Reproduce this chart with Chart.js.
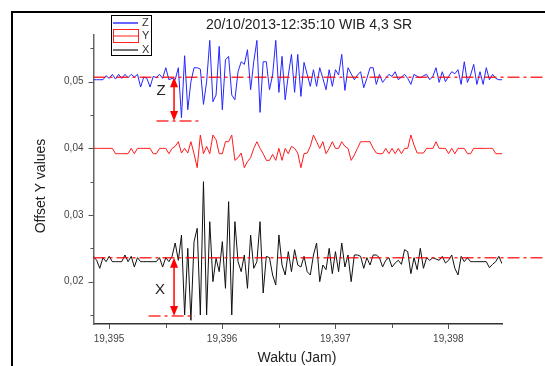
<!DOCTYPE html>
<html>
<head>
<meta charset="utf-8">
<script src="https://cdn.jsdelivr.net/npm/chart.js@4"></script>
<style>
  body { margin: 0; background: #fff; }
  canvas { display: block; }
</style>
</head>
<body>
<canvas id="graph" width="545" height="366"></canvas>
<script>
// seismogram, 10 samples per second, time in hours
const sampleStart = 19.394863;
const sampleStep = 1 / 36000;

const zValues = [
  0.0503, 0.0503, 0.0503, 0.0503, 0.0509, 0.0505, 0.0511, 0.0504, 0.0511, 0.0505,
  0.0511, 0.0506, 0.0511, 0.0507, 0.0511, 0.0492, 0.0507, 0.0505, 0.0492, 0.0508,
  0.0506, 0.0511, 0.0505, 0.0521, 0.0503, 0.0505, 0.0503, 0.0521, 0.0446, 0.0539,
  0.0458, 0.0500, 0.0521, 0.0521, 0.0519, 0.0466, 0.0500, 0.0562, 0.0470, 0.0480,
  0.0553, 0.0458, 0.0533, 0.0538, 0.0480, 0.0473, 0.0515, 0.0530, 0.0526, 0.0548,
  0.0488, 0.0530, 0.0562, 0.0454, 0.0530, 0.0530, 0.0488, 0.0510, 0.0562, 0.0484,
  0.0538, 0.0473, 0.0510, 0.0541, 0.0484, 0.0541, 0.0478, 0.0529, 0.0511, 0.0493,
  0.0518, 0.0493, 0.0521, 0.0505, 0.0488, 0.0518, 0.0493, 0.0518, 0.0510, 0.0541,
  0.0487, 0.0521, 0.0512, 0.0503, 0.0510, 0.0515, 0.0491, 0.0505, 0.0521, 0.0521,
  0.0496, 0.0511, 0.0499, 0.0505, 0.0511, 0.0508, 0.0515, 0.0503, 0.0507, 0.0511,
  0.0505, 0.0496, 0.0511, 0.0508, 0.0506, 0.0509, 0.0511, 0.0503, 0.0508, 0.0521,
  0.0499, 0.0515, 0.0500, 0.0508, 0.0515, 0.0512, 0.0518, 0.0496, 0.0530, 0.0499,
  0.0510, 0.0526, 0.0496, 0.0515, 0.0496, 0.0521, 0.0503, 0.0511, 0.0505, 0.0503,
  0.0503
];

const yValues = [
  0.0400, 0.0400, 0.0400, 0.0400, 0.0400, 0.0400, 0.0400, 0.0392, 0.0392, 0.0392,
  0.0392, 0.0392, 0.0400, 0.0392, 0.0400, 0.0400, 0.0400, 0.0400, 0.0400, 0.0392,
  0.0392, 0.0400, 0.0400, 0.0400, 0.0392, 0.0400, 0.0403, 0.0410, 0.0393, 0.0400,
  0.0393, 0.0410, 0.0392, 0.0371, 0.0420, 0.0392, 0.0403, 0.0392, 0.0420, 0.0413,
  0.0392, 0.0392, 0.0410, 0.0410, 0.0420, 0.0382, 0.0386, 0.0393, 0.0371, 0.0380,
  0.0386, 0.0400, 0.0410, 0.0400, 0.0392, 0.0382, 0.0382, 0.0391, 0.0382, 0.0400,
  0.0382, 0.0400, 0.0392, 0.0403, 0.0400, 0.0393, 0.0371, 0.0392, 0.0393, 0.0403,
  0.0420, 0.0410, 0.0400, 0.0410, 0.0392, 0.0400, 0.0410, 0.0400, 0.0400, 0.0410,
  0.0403, 0.0400, 0.0382, 0.0390, 0.0400, 0.0410, 0.0410, 0.0410, 0.0410, 0.0400,
  0.0393, 0.0392, 0.0392, 0.0400, 0.0392, 0.0400, 0.0392, 0.0400, 0.0392, 0.0400,
  0.0400, 0.0420, 0.0405, 0.0393, 0.0393, 0.0393, 0.0400, 0.0400, 0.0400, 0.0410,
  0.0400, 0.0400, 0.0400, 0.0392, 0.0400, 0.0392, 0.0400, 0.0400, 0.0400, 0.0392,
  0.0392, 0.0400, 0.0400, 0.0400, 0.0400, 0.0400, 0.0400, 0.0400, 0.0392, 0.0392,
  0.0392
];

const xValues = [
  0.0238, 0.0232, 0.0220, 0.0236, 0.0230, 0.0238, 0.0230, 0.0230, 0.0230, 0.0230,
  0.0240, 0.0230, 0.0238, 0.0222, 0.0236, 0.0230, 0.0230, 0.0230, 0.0230, 0.0230,
  0.0230, 0.0236, 0.0222, 0.0236, 0.0230, 0.0238, 0.0258, 0.0232, 0.0270, 0.0150,
  0.0250, 0.0142, 0.0260, 0.0280, 0.0150, 0.0350, 0.0150, 0.0290, 0.0200, 0.0235,
  0.0215, 0.0260, 0.0190, 0.0320, 0.0150, 0.0290, 0.0230, 0.0215, 0.0240, 0.0190,
  0.0270, 0.0220, 0.0230, 0.0290, 0.0183, 0.0238, 0.0236, 0.0210, 0.0195, 0.0270,
  0.0225, 0.0210, 0.0245, 0.0215, 0.0248, 0.0225, 0.0222, 0.0238, 0.0215, 0.0210,
  0.0240, 0.0258, 0.0200, 0.0225, 0.0218, 0.0250, 0.0212, 0.0245, 0.0215, 0.0258,
  0.0222, 0.0240, 0.0200, 0.0240, 0.0240, 0.0238, 0.0220, 0.0236, 0.0225, 0.0240,
  0.0240, 0.0236, 0.0222, 0.0232, 0.0236, 0.0222, 0.0228, 0.0232, 0.0226, 0.0248,
  0.0245, 0.0212, 0.0236, 0.0218, 0.0250, 0.0220, 0.0236, 0.0232, 0.0236, 0.0234,
  0.0232, 0.0238, 0.0228, 0.0232, 0.0240, 0.0220, 0.0210, 0.0238, 0.0230, 0.0236,
  0.0230, 0.0230, 0.0230, 0.0230, 0.0230, 0.0230, 0.0221, 0.0226, 0.0230, 0.0238,
  0.0227
];

const xTickValues = [19.395, 19.3955, 19.396, 19.3965, 19.397, 19.3975, 19.398];
const yTickValues = [0.015, 0.02, 0.025, 0.03, 0.035, 0.04, 0.045, 0.05, 0.055];

// amplitude markers (red arrows)
const markers = [
  { name: "Z", base: 0.05066, low: 0.0441, t: 19.395575, from: 19.39542, to: 19.39579, labelT: 19.39546, labelV: 0.0487 },
  { name: "X", base: 0.0236, low: 0.01485, t: 19.395575, from: 19.39535, to: 19.39576, labelT: 19.39545, labelV: 0.01875 },
];

const times = zValues.map((v, i) => sampleStart + i * sampleStep);
const toPoints = (vals) => vals.map((v, i) => ({ x: times[i], y: v }));

const isMajor = (v, step) => Math.abs(v / step - Math.round(v / step)) < 1e-6;
const comma = (v, d) => v.toFixed(d).replace(".", ",");
const font = "'Liberation Sans', Arial, sans-serif";

function arrowHead(ctx, x, y, dir) {
  ctx.beginPath();
  ctx.moveTo(x, y);
  ctx.lineTo(x - 4, y - dir * 10);
  ctx.lineTo(x + 4, y - dir * 10);
  ctx.closePath();
  ctx.fill();
}

const decor = {
  id: "decor",
  beforeDraw(chart) {
    const ctx = chart.ctx;
    ctx.save();
    ctx.fillStyle = "#fff";
    ctx.fillRect(0, 0, chart.width, chart.height);
    ctx.restore();
  },
  afterDraw(chart) {
    const { ctx, chartArea } = chart;
    const xs = chart.scales.x;
    const ys = chart.scales.y;
    ctx.save();

    // tick marks
    ctx.strokeStyle = "#555";
    ctx.lineWidth = 1;
    xs.ticks.forEach((t) => {
      const px = Math.round(xs.getPixelForValue(t.value)) + 0.5;
      const len = isMajor(t.value, 0.001) ? 5 : 4;
      ctx.beginPath();
      ctx.moveTo(px, chartArea.bottom);
      ctx.lineTo(px, chartArea.bottom + len);
      ctx.stroke();
    });
    ys.ticks.forEach((t) => {
      const py = Math.round(ys.getPixelForValue(t.value)) + 0.5;
      const len = isMajor(t.value, 0.01) ? 5 : 3;
      ctx.beginPath();
      ctx.moveTo(chartArea.left, py);
      ctx.lineTo(chartArea.left - len, py);
      ctx.stroke();
    });

    // red reference lines and arrows
    markers.forEach((m) => {
      const ax = xs.getPixelForValue(m.t);
      const yb = ys.getPixelForValue(m.base);
      const yl = ys.getPixelForValue(m.low);
      ctx.strokeStyle = "rgba(255,0,0,0.8)";
      ctx.lineWidth = 1.5;
      ctx.setLineDash([12, 4, 3, 4]);
      ctx.beginPath();
      ctx.moveTo(chartArea.left, yb);
      ctx.lineTo(chart.width, yb);
      ctx.stroke();
      ctx.beginPath();
      ctx.moveTo(xs.getPixelForValue(m.from), yl);
      ctx.lineTo(xs.getPixelForValue(m.to), yl);
      ctx.stroke();
      ctx.setLineDash([]);
      ctx.strokeStyle = "#ff0000";
      ctx.fillStyle = "#ff0000";
      ctx.beginPath();
      ctx.moveTo(ax, yb + 8);
      ctx.lineTo(ax, yl - 8);
      ctx.stroke();
      arrowHead(ctx, ax, yb, -1);
      arrowHead(ctx, ax, yl, 1);
      ctx.fillStyle = "#222";
      ctx.font = "15px " + font;
      ctx.textAlign = "center";
      ctx.textBaseline = "middle";
      ctx.fillText(m.name, xs.getPixelForValue(m.labelT), ys.getPixelForValue(m.labelV));
    });

    // frame
    ctx.strokeStyle = "#000";
    ctx.lineWidth = 2;
    ctx.beginPath();
    ctx.moveTo(12, chart.height);
    ctx.lineTo(12, 12);
    ctx.lineTo(chart.width, 12);
    ctx.stroke();

    // title
    ctx.fillStyle = "#222";
    ctx.font = "14px " + font;
    ctx.textAlign = "center";
    ctx.textBaseline = "middle";
    ctx.fillText("20/10/2013-12:35:10 WIB 4,3 SR", 309, 25);

    // axis titles
    ctx.fillText("Waktu (Jam)", 297, 358);
    ctx.save();
    ctx.translate(41, 186);
    ctx.rotate(-Math.PI / 2);
    ctx.fillText("Offset Y values", 0, 0);
    ctx.restore();

    // legend
    ctx.strokeStyle = "#000";
    ctx.lineWidth = 1;
    ctx.strokeRect(111.5, 15.5, 40, 40);
    ctx.lineWidth = 1.5;
    ctx.strokeStyle = "#3333ff";
    ctx.beginPath(); ctx.moveTo(113, 23); ctx.lineTo(138, 23); ctx.stroke();
    ctx.strokeStyle = "#ff2020";
    ctx.lineWidth = 1;
    ctx.strokeRect(113.5, 29.5, 25, 13);
    ctx.beginPath(); ctx.moveTo(113, 36); ctx.lineTo(139, 36); ctx.stroke();
    ctx.strokeStyle = "#444";
    ctx.lineWidth = 1.5;
    ctx.beginPath(); ctx.moveTo(113, 50); ctx.lineTo(138, 50); ctx.stroke();
    ctx.fillStyle = "#333";
    ctx.font = "11px " + font;
    ctx.textAlign = "left";
    ctx.fillText("Z", 142, 23);
    ctx.fillText("Y", 142, 36);
    ctx.fillText("X", 142, 50);

    ctx.restore();
  },
};

const ctx = document.getElementById("graph").getContext("2d");

const chart = new Chart(ctx, {
  type: "line",
  data: {
    datasets: [
      { label: "Z", data: toPoints(zValues), borderColor: "#2626ff", borderWidth: 1, pointRadius: 0, tension: 0 },
      { label: "Y", data: toPoints(yValues), borderColor: "#ff1a1a", borderWidth: 1, pointRadius: 0, tension: 0 },
      { label: "X", data: toPoints(xValues), borderColor: "#111", borderWidth: 1, pointRadius: 0, tension: 0 },
    ],
  },
  options: {
    responsive: false,
    animation: false,
    devicePixelRatio: 1,
    layout: { padding: { top: 35, right: 43, left: 0, bottom: 0 } },
    plugins: {
      legend: { display: false },
      title: { display: false },
      tooltip: { enabled: false },
    },
    scales: {
      x: {
        type: "linear",
        min: times[0],
        max: times[times.length - 1],
        border: { color: "#333", width: 1.5 },
        grid: { drawOnChartArea: false, tickLength: 5, tickColor: "rgba(0,0,0,0)" },
        afterBuildTicks: (s) => { s.ticks = xTickValues.map((v) => ({ value: v })); },
        ticks: {
          autoSkip: false,
          maxRotation: 0,
          padding: 4,
          color: "#444",
          font: { family: font, size: 10 },
          callback: (v) => (isMajor(v, 0.001) ? comma(v, 3) : ""),
        },
        afterFit: (s) => { s.height = 42; },
      },
      y: {
        min: 0.013646,
        max: 0.05701,
        border: { color: "#666", width: 1.5 },
        grid: { drawOnChartArea: false, tickLength: 5, tickColor: "rgba(0,0,0,0)" },
        afterBuildTicks: (s) => { s.ticks = yTickValues.map((v) => ({ value: v })); },
        ticks: {
          autoSkip: false,
          padding: 5,
          color: "#444",
          font: { family: font, size: 10 },
          callback: (v) => (isMajor(v, 0.01) ? comma(v, 2) : ""),
        },
        afterFit: (s) => { s.width = 93.5; },
      },
    },
  },
  plugins: [decor],
});
</script>
</body>
</html>
